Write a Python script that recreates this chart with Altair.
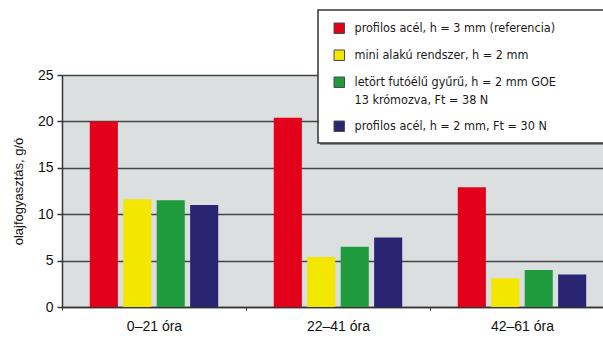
import altair as alt
import pandas as pd

# Oil consumption (g/h) of four ring variants over three running periods
periods = ["0–21 óra", "22–41 óra", "42–61 óra"]
series = [
    "profilos acél, h = 3 mm (referencia)",
    "mini alakú rendszer, h = 2 mm",
    "letört futóélű gyűrű, h = 2 mm GOE\n13 krómozva, Ft = 38 N",
    "profilos acél, h = 2 mm, Ft = 30 N",
]
colors = ["#e2001a", "#f3e600", "#1f9a3c", "#2a2572"]
values = [
    [20.0, 11.6, 11.5, 11.0],   # 0–21 óra
    [20.4, 5.4, 6.5, 7.5],      # 22–41 óra
    [12.9, 3.1, 4.0, 3.5],      # 42–61 óra
]

rows = []
for p, vals in zip(periods, values):
    for s, v in zip(series, vals):
        rows.append({"period": p, "series": s, "value": v})
df = pd.DataFrame(rows)

FONT = "Liberation Sans"
NARROW = "Liberation Sans Narrow, DejaVu Sans Condensed, Liberation Sans"

bars = alt.Chart(df).mark_bar().encode(
    x=alt.X(
        "period:N",
        sort=periods,
        title=None,
        scale=alt.Scale(range=[0, 552], paddingInner=0, paddingOuter=0),
        axis=alt.Axis(
            labelAngle=0, labelFont=FONT, labelFontSize=14, labelColor="#111",
            labelPadding=9, tickBand="extent", tickSize=3, tickColor="#333",
            domainColor="#333", domainWidth=1.5, grid=False,
        ),
    ),
    xOffset=alt.XOffset(
        "series:N", sort=series,
        scale=alt.Scale(paddingInner=0.16, paddingOuter=0.83),
    ),
    y=alt.Y(
        "value:Q",
        title="olajfogyasztás, g/ó",
        scale=alt.Scale(domain=[0, 25], nice=False),
        axis=alt.Axis(
            values=[0, 5, 10, 15, 20, 25], labelFont=FONT, labelFontSize=14,
            labelColor="#111", labelPadding=4, tickSize=5, tickColor="#333",
            tickWidth=1.5, domainColor="#333", domainWidth=1.5,
            grid=True, gridColor="#444444", gridWidth=1.7,
            titleFont=FONT, titleFontSize=13, titleFontWeight="normal",
            titleColor="#111", titlePadding=12,
        ),
    ),
    color=alt.Color(
        "series:N", sort=series,
        scale=alt.Scale(domain=series, range=colors),
        legend=alt.Legend(
            orient="none", legendX=271, legendY=-53, title=None,
            symbolType="square", symbolSize=110, symbolStrokeWidth=1,
            symbolStrokeColor="#4a4a4a",
            labelFont=NARROW, labelFontSize=12.5, labelColor="#1a1a1a",
            labelOffset=9, rowPadding=12, labelLimit=400,
            labelExpr="split(datum.label, '\\n')",
        ),
    ),
)

# legend frame with a soft drop shadow, drawn over the top of the plot
frame_data = alt.Data(values=[{"k": 0}])
shadow = alt.Chart(frame_data).mark_rect(color="#8a8a8a").encode(
    x=alt.value(258), x2=alt.value(580), y=alt.value(-63), y2=alt.value(70)
)
frame = alt.Chart(frame_data).mark_rect(
    fill="white", stroke="#333", strokeWidth=1.5
).encode(
    x=alt.value(256), x2=alt.value(578), y=alt.value(-65), y2=alt.value(68)
)

chart = alt.layer(bars, shadow, frame).properties(
    width=541,
    height=232,
    autosize="none",
    padding={"left": 62, "top": 75, "right": 0, "bottom": 31},
    background="white",
).configure(
    view=alt.ViewConfig(fill="#dcdfe0", stroke=None),
    style={"guide-label": {"lineHeight": 18}},
)

chart.save("out.html", embed_options={"renderer": "svg", "actions": False})
